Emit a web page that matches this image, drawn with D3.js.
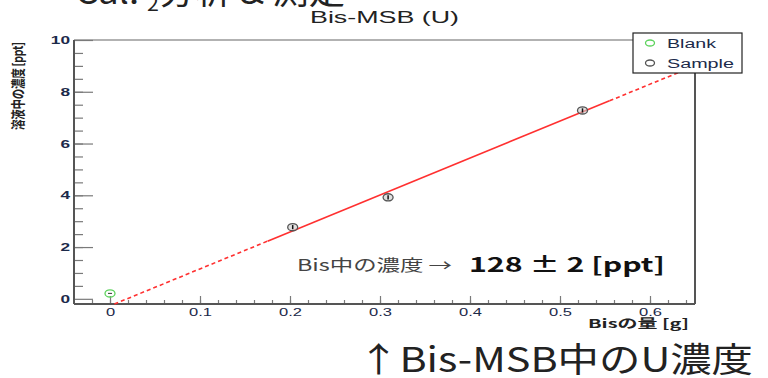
<!DOCTYPE html>
<html lang="ja">
<head>
<meta charset="utf-8">
<title>Bis-MSB (U)</title>
<script src="https://cdn.jsdelivr.net/npm/d3@7"></script>
<style>
body{margin:0;background:#fff;}
.root{font-family:"Liberation Sans",Arial,sans-serif;}
.jp{font-family:"Noto Sans CJK JP",sans-serif;}
.axis .domain{display:none;}
.axis line{stroke:#7a7a7a;stroke-width:1.2;}
</style>
</head>
<body>
<script>
// values
var xTicks=[0,0.1,0.2,0.3,0.4,0.5,0.6];
var yTicks=[0,2,4,6,8,10];
var sampleX=[0.203,0.309,0.525];
var sampleY=[2.77,3.92,7.28];
var sampleErr=[0.08,0.08,0.08];
var blankX=[0];
var blankY=[0.21];
var fitSlope=14.27, fitIntercept=-0.27;
var fitSolid=[0.175,0.555];
var legendNames=["Blank","Sample"];
var legendColors=["#5fd35f","#555"];

var w=768, h=378;
var xMin=-0.04, xMax=0.65, yMin=-0.2, yMax=10;
var pLeft=74, pRight=695, pTop=40, pBottom=304;
var sx=1.5; // the ROOT picture is stretched sideways

var svg=d3.select("body").append("svg")
    .attr("width",w).attr("height",h);

var xScale=d3.scaleLinear().domain([xMin,xMax]).range([pLeft,pRight]);
var yScale=d3.scaleLinear().domain([yMin,yMax]).range([pBottom,pTop]);

// slide text cut off at the top
svg.append("text").attr("class","jp")
    .attr("x",75).attr("y",4)
    .style("font-size","34px").attr("fill","#222")
    .attr("textLength",270).attr("lengthAdjust","spacingAndGlyphs")
    .html('Cal. <tspan dy="7" style="font-size:20px">2</tspan><tspan dy="-7">分析 &amp; 測定</tspan>');

// frame
svg.append("line").attr("x1",pLeft).attr("x2",pRight).attr("y1",pTop).attr("y2",pTop)
    .attr("stroke","#999").attr("stroke-width",1.5);
svg.append("line").attr("x1",pRight).attr("x2",pRight).attr("y1",pTop).attr("y2",pBottom)
    .attr("stroke","#555").attr("stroke-width",2);

// minor ticks
svg.append("g").attr("class","axis")
    .attr("transform","translate(0,"+pBottom+")")
    .call(d3.axisBottom(xScale).tickValues(d3.range(-0.02,0.65,0.02)).tickSize(-4).tickFormat(""));
svg.append("g").attr("class","axis")
    .attr("transform","translate("+pLeft+",0)")
    .call(d3.axisLeft(yScale).tickValues(d3.range(0.5,10,0.5)).tickSize(-9).tickFormat(""));

// major ticks + labels
var xAxis=svg.append("g").attr("class","axis root")
    .attr("transform","translate(0,"+pBottom+")")
    .call(d3.axisBottom(xScale).tickValues(xTicks).tickSize(-8).tickSizeOuter(0).tickPadding(4)
        .tickFormat(function(d){return d===0?"0":d3.format(".1f")(d);}));
xAxis.selectAll("text")
    .attr("transform","scale("+sx+",1)")
    .style("font-size","11px").attr("fill","#1c2a4a");

var yAxis=svg.append("g").attr("class","axis root")
    .attr("transform","translate("+pLeft+",0)")
    .call(d3.axisLeft(yScale).tickValues(yTicks).tickSize(-19).tickSizeOuter(0).tickPadding(0));
yAxis.selectAll("text")
    .attr("x",-4/sx)
    .attr("transform","scale("+sx+",1)")
    .style("font-size","11.5px").style("font-weight","bold").attr("fill","#1c2a4a");

svg.append("line").attr("x1",pLeft).attr("x2",pRight).attr("y1",pBottom).attr("y2",pBottom)
    .attr("stroke","#555").attr("stroke-width",2);
svg.append("line").attr("x1",pLeft).attr("x2",pLeft).attr("y1",pTop).attr("y2",pBottom)
    .attr("stroke","#555").attr("stroke-width",2);

// fit line
var fit=function(x){return fitSlope*x+fitIntercept;};
var line=d3.line().x(function(d){return xScale(d);}).y(function(d){return yScale(fit(d));});
var xStart=(yMin-fitIntercept)/fitSlope;
svg.append("path").datum([xStart,fitSolid[0]]).attr("d",line)
    .attr("fill","none").attr("stroke","#ff3030").attr("stroke-width",1.6).attr("stroke-dasharray","4,3");
svg.append("path").datum([fitSolid[1],xMax]).attr("d",line)
    .attr("fill","none").attr("stroke","#ff3030").attr("stroke-width",1.6).attr("stroke-dasharray","4,3");
svg.append("path").datum(fitSolid).attr("d",line)
    .attr("fill","none").attr("stroke","#ff3030").attr("stroke-width",1.6);

// blank point
svg.selectAll(".blank").data(blankX).enter().append("g").attr("class","blank")
    .each(function(d,i){
        var g=d3.select(this);
        g.append("ellipse").attr("cx",xScale(d)).attr("cy",yScale(blankY[i]))
            .attr("rx",5).attr("ry",3.6).attr("fill","none").attr("stroke",legendColors[0]).attr("stroke-width",1.3);
        g.append("line").attr("x1",xScale(d)-2).attr("x2",xScale(d)+2)
            .attr("y1",yScale(blankY[i])).attr("y2",yScale(blankY[i])).attr("stroke","#333");
    });

// sample points
svg.selectAll(".sample").data(sampleX).enter().append("g").attr("class","sample")
    .each(function(d,i){
        var g=d3.select(this);
        g.append("ellipse").attr("cx",xScale(d)).attr("cy",yScale(sampleY[i]))
            .attr("rx",5).attr("ry",3.6).attr("fill","#ccc").attr("fill-opacity",0.6)
            .attr("stroke",legendColors[1]).attr("stroke-width",1.3);
        g.append("line").attr("x1",xScale(d)).attr("x2",xScale(d))
            .attr("y1",yScale(sampleY[i]-sampleErr[i])).attr("y2",yScale(sampleY[i]+sampleErr[i]))
            .attr("stroke","#111").attr("stroke-width",1.5);
    });

// title
svg.append("text").attr("class","root")
    .attr("x",310).attr("y",23)
    .attr("textLength",149).attr("lengthAdjust","spacingAndGlyphs")
    .style("font-size","16px").attr("fill","#222")
    .text("Bis-MSB (U)");

// axis titles
svg.append("text").attr("class","jp")
    .attr("transform","translate(23,42) scale(1.35,1) rotate(-90)")
    .attr("text-anchor","end")
    .attr("textLength",88).attr("lengthAdjust","spacing")
    .style("font-size","10.5px").style("font-weight","bold").attr("fill","#222")
    .text("溶液中の濃度 [ppt]");
svg.append("text").attr("class","jp")
    .attr("x",588).attr("y",328)
    .attr("textLength",101).attr("lengthAdjust","spacingAndGlyphs")
    .style("font-size","12px").style("font-weight","bold").attr("fill","#222")
    .text("Bisの量 [g]");

// legend
var lg=svg.append("g").attr("class","root");
lg.append("rect").attr("x",633).attr("y",33).attr("width",109).attr("height",40)
    .attr("fill","#fff").attr("stroke","#222").attr("stroke-width",1.2);
lg.selectAll(".entry").data(legendNames).enter().append("g")
    .each(function(d,i){
        var g=d3.select(this), cy=43+i*20;
        g.append("ellipse").attr("cx",650).attr("cy",cy).attr("rx",4.5).attr("ry",3)
            .attr("fill","none").attr("stroke",legendColors[i]).attr("stroke-width",1.3);
        g.append("text").attr("x",667).attr("y",cy+4.5)
            .attr("textLength",i===0?49:67).attr("lengthAdjust","spacingAndGlyphs")
            .style("font-size","12.5px").attr("fill","#1c2a4a").text(d);
    });

// annotation
svg.append("text").attr("class","jp")
    .attr("x",297).attr("y",271)
    .attr("textLength",155).attr("lengthAdjust","spacingAndGlyphs")
    .style("font-size","16px").attr("fill","#444")
    .text("Bis中の濃度 →");
svg.append("text").attr("class","jp")
    .attr("x",469).attr("y",272)
    .attr("textLength",196).attr("lengthAdjust","spacingAndGlyphs")
    .style("font-size","20px").style("font-weight","bold").attr("fill","#111")
    .text("128 ± 2 [ppt]");

// slide caption
svg.append("text").attr("class","jp")
    .attr("x",358).attr("y",372)
    .attr("textLength",395).attr("lengthAdjust","spacingAndGlyphs")
    .style("font-size","34px").attr("fill","#222")
    .text("↑Bis-MSB中のU濃度");
</script>
</body>
</html>
